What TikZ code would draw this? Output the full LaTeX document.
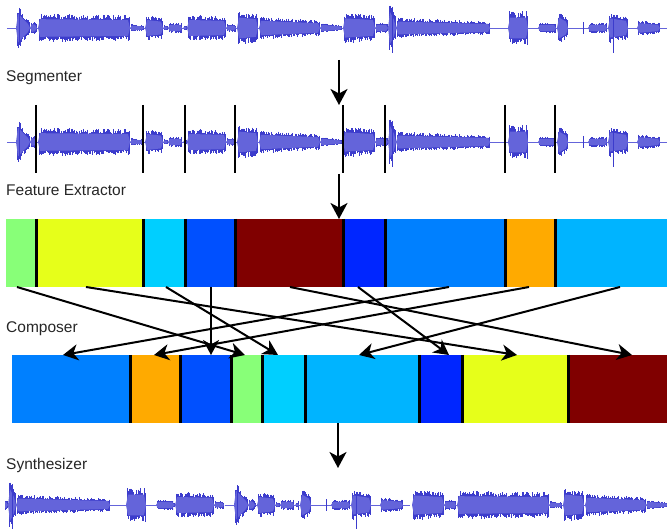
\documentclass[tikz,border=0pt]{standalone}
\usepackage{fontspec}
\usepackage{tikz}
\usetikzlibrary{arrows.meta,positioning,calc}
\newfontfamily\labelfont{Liberation Sans}
\definecolor{wavefill}{HTML}{6464DA}
\definecolor{wavedark}{HTML}{3C3CCC}
\definecolor{jgreen}{HTML}{88FF78}
\definecolor{jyellow}{HTML}{E6FF1A}
\definecolor{jcyan}{HTML}{00CFFF}
\definecolor{jsky}{HTML}{00B4FF}
\definecolor{jmid}{HTML}{0080FF}
\definecolor{jblue}{HTML}{0050FF}
\definecolor{jdeep}{HTML}{0026FF}
\definecolor{jorange}{HTML}{FFAA00}
\definecolor{jred}{HTML}{800000}
\tikzset{
  seg/.style={draw=none, inner sep=0pt, outer sep=0pt, minimum height=68pt},
  divider/.style={line width=3pt, draw=black},
  cut/.style={line width=2.6pt, draw=black},
  stage/.style={font=\labelfont\fontsize{15.5}{18}\selectfont, anchor=base west,
                inner sep=0pt, text=black!85},
  flow/.style={-{Stealth[length=16pt,width=17pt,inset=4.5pt]}, line width=2pt, draw=black},
  mapto/.style={-{Stealth[length=15pt,width=16pt,inset=4.5pt]}, line width=2pt, draw=black}
}
% one recording, drawn around y=0 in pixel units
\newcommand\wavebody{%
  \pgfmathsetseed{1234}%
  \draw[wavefill, line width=0.9pt] (7,0) -- (667,0);
  \foreach \xa/\xb/\aa/\ab in {16/30/18/5, 30/37/5/4, 38/130/11/10, 130/144/3/2,
      145/163/10/8, 163/168/2/2, 168/182/4/4, 183/187/2/2, 187/226/10/9,
      226/236/3/3, 237/258/13/11, 259/320/9/6, 320/342/4/2, 343/375/12/10,
      375/388/4/4, 388/396/20/10, 396/490/8/5, 508/528/13/13, 538/556/4/4,
      557/568/13/8, 588/607/4/4, 608/628/12/9, 637/660/6/4} {
    \pgfmathsetmacro\xs{\xa+1}\pgfmathsetmacro\xn{\xa+2}\pgfmathsetmacro\xe{\xb-1}
    \foreach \s in {\xs,\xn,...,\xe} {
      \pgfmathsetmacro\am{\aa+(\ab-\aa)*(\s-\xa)/(\xb-\xa)}
      \pgfmathsetmacro\up{\am*(0.8+0.5*rnd)}
      \pgfmathsetmacro\dn{\am*(0.8+0.5*rnd)}
      \draw[wavedark, line width=0.6pt] (\s,-\up) -- (\s,\dn);
    }
    \fill[wavefill] (\xa,0) -- ({\xa+2},-0.8*\aa) -- ({\xb-2},-0.8*\ab) -- (\xb,0)
      -- ({\xb-2},0.8*\ab) -- ({\xa+2},0.8*\aa) -- cycle;
  }
  \foreach \s/\up/\dn in {19/20/17, 392/21/25, 583/6/6, 613/13/25}
    \draw[wavedark, line width=0.9pt] (\s,-\up) -- (\s,\dn);
}

\begin{document}
\begin{tikzpicture}[x=1pt,y=-1pt]
  \useasboundingbox (0,0) rectangle (667,529);
  % input recording
  \begin{scope}[shift={(0,28)}] \wavebody \end{scope}
  \node[stage] (segtxt) at (6,82) {Segmenter};
  \coordinate (a1) at (339,60);
  \coordinate (b1) at (339,105);
  \draw[flow] (a1) -- (b1);
  % segmented recording
  \begin{scope}[shift={(0,142)}] \wavebody \end{scope}
  \foreach \xc in {36,143,185,235,343,385,505,555}
    \draw[cut] (\xc,105) -- (\xc,173);
  \node[stage] (feattxt) at (6,196) {Feature Extractor};
  % feature strip
  \foreach \nm/\xa/\xb/\col in {f1/6/36/jgreen, f2/36/143/jyellow, f3/143/185/jcyan,
      f4/185/235/jblue, f5/235/343/jred, f6/343/385/jdeep, f7/385/505/jmid,
      f8/505/555/jorange, f9/555/667/jsky}
    \node[seg, fill=\col, minimum width={\xb-\xa}] (\nm) at ({(\xa+\xb)/2},253) {};
  \foreach \i in {1,...,8}
    \draw[divider] (f\i.north east) -- (f\i.south east);
  \coordinate (a2) at (339,174);
  \draw[flow] (a2) -- (a2 |- f5.north);
  \node[stage] (comptxt) at (6,333) {Composer};
  % composed strip
  \foreach \nm/\xa/\xb/\col in {c1/12/130/jmid, c2/130/180/jorange, c3/180/231/jblue,
      c4/231/262/jgreen, c5/262/305/jcyan, c6/305/419/jsky, c7/419/462/jdeep,
      c8/462/568/jyellow, c9/568/667/jred}
    \node[seg, fill=\col, minimum width={\xb-\xa}] (\nm) at ({(\xa+\xb)/2},389) {};
  \foreach \i in {1,...,8}
    \draw[divider] (c\i.north east) -- (c\i.south east);
  % where each unit goes
  \foreach \from/\sx/\to/\tx in {f1/-4/c4/-1.5, f2/-3.5/c8/2, f3/2/c5/-5.5,
      f4/1/c3/5.5, f5/1/c9/14.5, f6/-6/c7/8.5, f7/4/c1/-8, f8/-1/c2/-1, f9/9/c6/-3}
    \draw[mapto] ([xshift=\sx]\from.south) -- ([xshift=\tx]\to.north);
  \coordinate (a3) at (338,468);
  \draw[flow] (a3 |- c6.south) -- (a3);
  \node[stage] (syntxt) at (6,469) {Synthesizer};
  % output recording, pieces in composed order
  \foreach \src/\dst/\wid in {385/5/118, 505/123/50, 185/173/51, 6/224/31, 143/255/43,
      555/298/114, 343/412/43, 36/455/106, 235/561/106} {
    \begin{scope}
      \clip (\dst,470) rectangle ({\dst+\wid},540);
      \begin{scope}[shift={({\dst-\src},505)}] \wavebody \end{scope}
    \end{scope}
  }
\end{tikzpicture}
\end{document}
